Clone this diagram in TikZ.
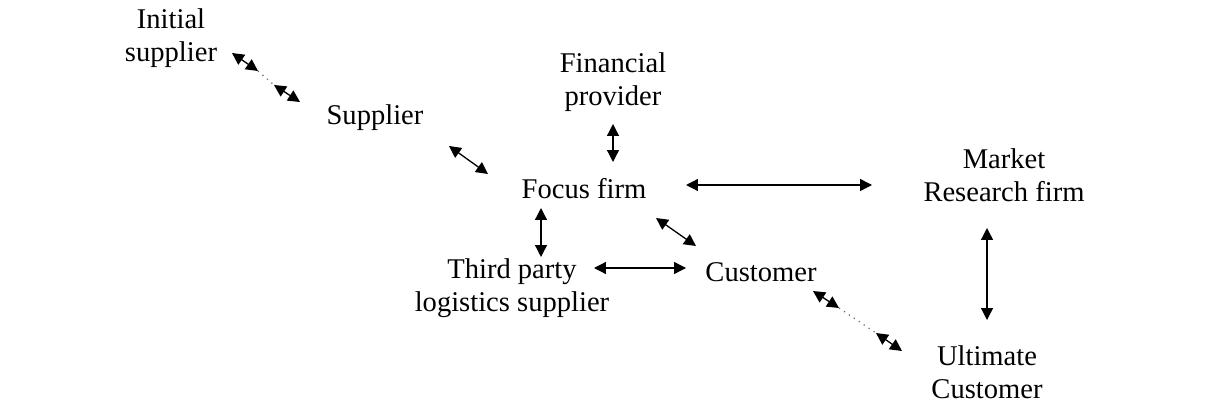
\documentclass[tikz,border=0pt]{standalone}
\usepackage{fontspec}
\setmainfont{Liberation Serif}
\usetikzlibrary{arrows.meta}
\tikzset{
  lbl/.style={align=center, inner sep=0pt, font=\fontsize{12}{13.9}\selectfont},
  dbl/.style={{Triangle[length=5pt,width=5pt]}-{Triangle[length=5pt,width=5pt]}, line width=0.55pt},
  dots/.style={dotted, line width=0.5pt, black!60}
}
\begin{document}
\begin{tikzpicture}[x=0.42pt,y=-0.42pt]
\useasboundingbox (0,0) rectangle (1226,413);
\node[lbl] (init) at (171,38) {Initial\\supplier};
\node[lbl] (supp) at (375,118) {Supplier};
\node[lbl] (fin) at (613,82) {Financial\\provider};
\node[lbl] (focus) at (584,189) {Focus firm};
\node[lbl] (mrf) at (1004,175) {Market\\Research firm};
\node[lbl] (tpl) at (512,288) {Third party\\logistics supplier};
\node[lbl] (cust) at (761,272) {Customer};
\node[lbl] (ult) at (987,372) {Ultimate\\Customer};
% coordinates for arrow ends
\coordinate (a1) at (232,53); \coordinate (a2) at (258,71);
\coordinate (a3) at (274,85); \coordinate (a4) at (300,102);
\coordinate (b1) at (449,146); \coordinate (b2) at (488,174);
\coordinate (c1) at (613,124); \coordinate (c2) at (613,162);
\coordinate (d1) at (686,185); \coordinate (d2) at (872,185);
\coordinate (e1) at (541,208); \coordinate (e2) at (541,257);
\coordinate (f1) at (656,218); \coordinate (f2) at (696,246);
\coordinate (g1) at (594,268); \coordinate (g2) at (686,268);
\coordinate (h1) at (987,228); \coordinate (h2) at (987,320);
\coordinate (k1) at (813,291); \coordinate (k2) at (839,308);
\coordinate (k3) at (876,333); \coordinate (k4) at (902,351);
\draw[dbl] (a1) -- (a2);
\draw[dots] (a2) -- (a3);
\draw[dbl] (a3) -- (a4);
\draw[dbl] (b1) -- (b2);
\draw[dbl] (c1) -- (c2);
\draw[dbl] (d1) -- (d2);
\draw[dbl] (e1) -- (e2);
\draw[dbl] (f1) -- (f2);
\draw[dbl] (g1) -- (g2);
\draw[dbl] (h1) -- (h2);
\draw[dbl] (k1) -- (k2);
\draw[dots] (k2) -- (k3);
\draw[dbl] (k3) -- (k4);
\end{tikzpicture}
\end{document}
